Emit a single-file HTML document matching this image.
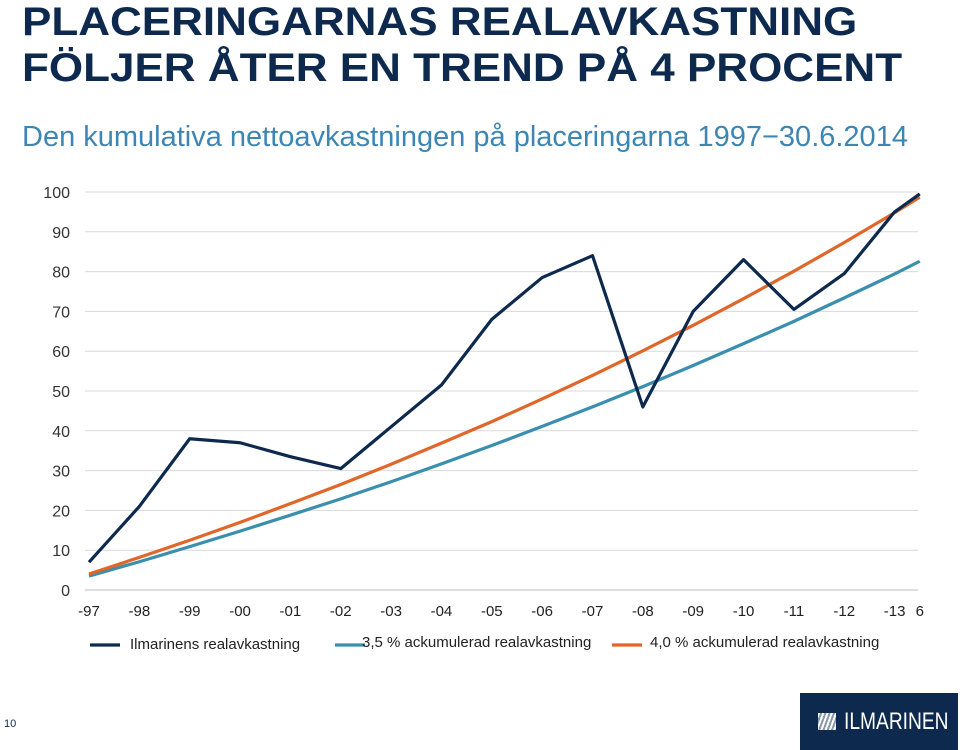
<!DOCTYPE html>
<html><head><meta charset="utf-8"><style>
body{margin:0;width:960px;height:750px;background:#fff;font-family:"Liberation Sans",sans-serif;overflow:hidden;position:relative}
.t{position:absolute;left:22px;color:#0d2a4e;font-weight:bold;font-size:40px;line-height:46px;transform:scaleX(1.1);transform-origin:left;white-space:nowrap}
.sub{position:absolute;left:22px;top:121px;color:#3d86b4;font-size:29px;white-space:nowrap}
</style></head><body>
<div class="t" style="top:-1px">PLACERINGARNAS REALAVKASTNING<br>FÖLJER ÅTER EN TREND PÅ 4 PROCENT</div>
<div class="sub">Den kumulativa nettoavkastningen på placeringarna 1997−30.6.2014</div>
<svg id="chart" width="960" height="750" style="position:absolute;left:0;top:0"></svg>
<div style="position:absolute;left:4px;top:718px;font-size:11px;color:#0d2a4e">10</div>
<div style="position:absolute;left:800px;top:693px;width:158px;height:57px;background:#0d2a4e;color:#fff">
<div style="position:absolute;left:18px;top:20px;width:18px;height:17px;background:repeating-linear-gradient(110deg,#fff 0 2px,#8899aa 2px 4px)"></div>
<div style="position:absolute;left:44px;top:15px;font-size:24px;transform:scaleX(0.8);transform-origin:left">ILMARINEN</div></div>
<script>
const xLabels=["-97","-98","-99","-00","-01","-02","-03","-04","-05","-06","-07","-08","-09","-10","-11","-12","-13","6"];
const yTicks=[0,10,20,30,40,50,60,70,80,90,100];
const xPos=[0,1,2,3,4,5,6,7,8,9,10,11,12,13,14,15,16,16.5];
const ilmarinen=[7,21,38,37,33.5,30.5,41,51.5,68,78.5,84,46,70,83,70.5,79.5,95,99.5];
const acc35=[3.5,7.1,10.9,14.8,18.8,22.9,27.2,31.7,36.3,41.1,46.0,51.1,56.4,61.9,67.5,73.4,79.4,82.6];
const acc40=[4.0,8.2,12.5,17.0,21.7,26.5,31.6,36.9,42.3,48.0,53.9,60.1,66.5,73.2,80.1,87.3,94.8,98.7];
const svg=document.getElementById('chart');const NS='http://www.w3.org/2000/svg';
const x=i=>89+i*50.35, y=v=>590-v*3.98;
function mk(t,a){const e=document.createElementNS(NS,t);for(const k in a)e.setAttribute(k,a[k]);svg.appendChild(e);return e;}
yTicks.forEach(v=>{
 if(v>0){const g=mk('line',{x1:85,x2:918,y1:y(v),y2:y(v),stroke:'#d9d9d9','stroke-width':1});
 
 }
 const t=mk('text',{x:70,y:y(v)+6,'text-anchor':'end','font-size':16,fill:'#333'});t.textContent=v;
 
 
});
const ax=mk('line',{x1:85,x2:918,y1:590,y2:590,stroke:'#bbb'});


xLabels.forEach((l,i)=>{const t=mk('text',{x:x(xPos[i]),y:616,'text-anchor':'middle','font-size':15,fill:'#222'});t.textContent=l;
 
 });
function line(d,c,n){const p=mk('polyline',{points:d.map((v,i)=>x(xPos[i])+','+y(v)).join(' '),fill:'none',stroke:c,'stroke-width':3.2,'stroke-linejoin':'round'});
 
 }
line(acc35,'#3a8fae','line-3-5-percent');
line(acc40,'#e0662a','line-4-percent');
line(ilmarinen,'#0d2a4e','line-ilmarinen');
const leg=[['#0d2a4e','Ilmarinens realavkastning',90,130,649],['#3a8fae','3,5 % ackumulerad realavkastning',335,362,647],['#e0662a','4,0 % ackumulerad realavkastning',612,650,647]];
leg.forEach(([c,l,x1,tx,ty])=>{const g=mk('g',{});
 const ln=document.createElementNS(NS,'line');[['x1',x1],['x2',x1+30],['y1',645],['y2',645],['stroke',c],['stroke-width',3.2]].forEach(a=>ln.setAttribute(a[0],a[1]));g.appendChild(ln);
 const t=document.createElementNS(NS,'text');t.setAttribute('x',tx);t.setAttribute('y',ty);t.setAttribute('font-size',15);t.setAttribute('fill','#222');t.textContent=l;g.appendChild(t);});
</script>
</body></html>
